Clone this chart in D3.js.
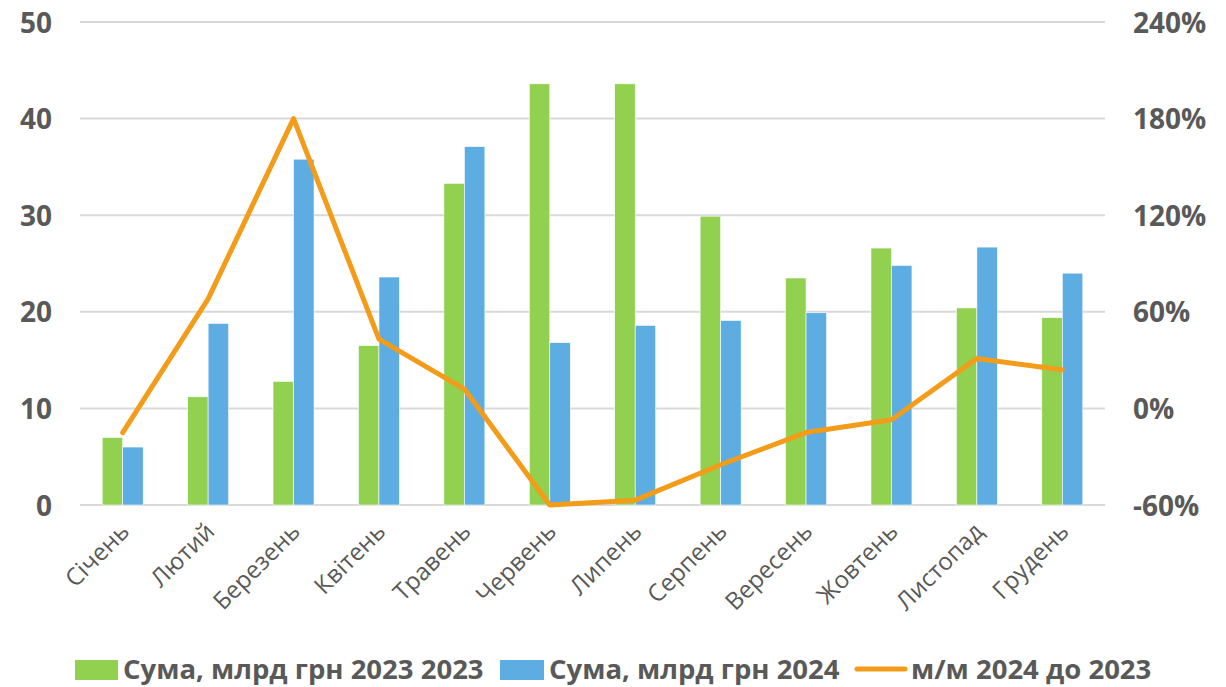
<!DOCTYPE html>
<html>
<head>
<meta charset="utf-8">
<script src="https://cdn.jsdelivr.net/npm/d3@7"></script>
<style>
  body { margin: 0; background: #fff; }
  svg { font-family: 'Open Sans', sans-serif; }
</style>
</head>
<body>
<svg id="chart" width="1226" height="687"></svg>
<script>
const months = ['Січень', 'Лютий', 'Березень', 'Квітень', 'Травень', 'Червень',
  'Липень', 'Серпень', 'Вересень', 'Жовтень', 'Листопад', 'Грудень']
const sum2023 = [7.0, 11.2, 12.8, 16.5, 33.3, 43.6, 43.6, 29.9, 23.5, 26.6, 20.4, 19.4]
const sum2024 = [6.0, 18.8, 35.8, 23.6, 37.1, 16.8, 18.6, 19.1, 19.9, 24.8, 26.7, 24.0]
const change = [-15, 68, 180, 43, 12, -61, -57, -35, -15, -7, 31, 24]
const leftTicks = [0, 10, 20, 30, 40, 50]
const rightTicks = [-60, 0, 60, 120, 180, 240]
const seriesNames = ['Сума, млрд грн 2023 2023', 'Сума, млрд грн 2024', 'м/м 2024 до 2023']

const green = '#92d050'
const blue = '#5dade2'
const orange = '#f39c1a'
const grey = '#595959'

let plotL = 80, plotR = 1105, plotT = 22, plotB = 505
let svg = d3.select('#chart')

let x = d3.scaleBand().domain(months).range([plotL, plotR])
let yL = d3.scaleLinear().domain([0, 50]).range([plotB, plotT])
let yR = d3.scaleLinear().domain([-60, 240]).range([plotB, plotT])
let barW = 20.5

// gridlines
svg.append('g')
  .selectAll('line')
  .data(leftTicks)
  .enter()
  .append('line')
  .attr('x1', plotL)
  .attr('x2', plotR)
  .attr('y1', d => yL(d))
  .attr('y2', d => yL(d))
  .attr('stroke', '#d9d9d9')
  .attr('stroke-width', 2)

// left axis
let axL = svg.append('g')
  .attr('transform', 'translate(' + (plotL - 28) + ',0)')
  .call(d3.axisLeft(yL).tickValues(leftTicks).tickSize(0).tickPadding(0))
axL.select('.domain').remove()
axL.selectAll('text')
  .attr('fill', grey)
  .attr('font-size', 28)
  .attr('font-weight', 'bold')
  .attr('font-family', 'Open Sans')
  .attr('dy', '0.36em')

// right axis
let axR = svg.append('g')
  .attr('transform', 'translate(' + (plotR + 28) + ',0)')
  .call(d3.axisRight(yR).tickValues(rightTicks).tickSize(0).tickPadding(0).tickFormat(d => d + '%'))
axR.select('.domain').remove()
axR.selectAll('text')
  .attr('fill', grey)
  .attr('font-size', 28)
  .attr('font-weight', 'bold')
  .attr('font-family', 'Open Sans')
  .attr('dy', '0.36em')

// bars
svg.append('g')
  .selectAll('rect')
  .data(months)
  .enter()
  .append('rect')
  .attr('x', (d) => x(d) + x.bandwidth() / 2 - barW)
  .attr('y', (d, i) => yL(sum2023[i]))
  .attr('width', barW)
  .attr('height', (d, i) => yL(0) - yL(sum2023[i]))
  .attr('fill', green)
  .attr('stroke', '#fff')
  .attr('stroke-width', 0.6)

svg.append('g')
  .selectAll('rect')
  .data(months)
  .enter()
  .append('rect')
  .attr('x', (d) => x(d) + x.bandwidth() / 2)
  .attr('y', (d, i) => yL(sum2024[i]))
  .attr('width', barW)
  .attr('height', (d, i) => yL(0) - yL(sum2024[i]))
  .attr('fill', blue)
  .attr('stroke', '#fff')
  .attr('stroke-width', 0.6)

// line
let line = d3.line()
  .x((d, i) => x(months[i]) + x.bandwidth() / 2)
  .y(d => yR(Math.max(d, -60)))

svg.append('path')
  .datum(change)
  .attr('d', line)
  .attr('fill', 'none')
  .attr('stroke', orange)
  .attr('stroke-width', 5)
  .attr('stroke-linecap', 'round')
  .attr('stroke-linejoin', 'round')

// category labels
svg.append('g')
  .selectAll('text')
  .data(months)
  .enter()
  .append('text')
  .text(d => d)
  .attr('transform', d => 'translate(' + (x(d) + x.bandwidth() / 2 + 8) + ',' + (plotB + 28) + ') rotate(-45)')
  .attr('text-anchor', 'end')
  .attr('font-size', 24)
  .attr('fill', grey)

// legend
let legend = svg.append('g').attr('font-size', 27.5).attr('font-weight', 'bold').attr('fill', grey)
let lx = [75, 500, 855]
legend.append('rect').attr('x', lx[0]).attr('y', 660).attr('width', 43).attr('height', 20).attr('fill', green)
legend.append('text').attr('x', lx[0] + 48).attr('y', 679).text(seriesNames[0])
legend.append('rect').attr('x', lx[1]).attr('y', 660).attr('width', 44).attr('height', 20).attr('fill', blue)
legend.append('text').attr('x', lx[1] + 49).attr('y', 679).text(seriesNames[1])
legend.append('line').attr('x1', lx[2] + 2).attr('x2', lx[2] + 50).attr('y1', 669).attr('y2', 669)
  .attr('stroke', orange).attr('stroke-width', 5).attr('stroke-linecap', 'round')
legend.append('text').attr('x', lx[2] + 56).attr('y', 679).text(seriesNames[2])
</script>
</body>
</html>
